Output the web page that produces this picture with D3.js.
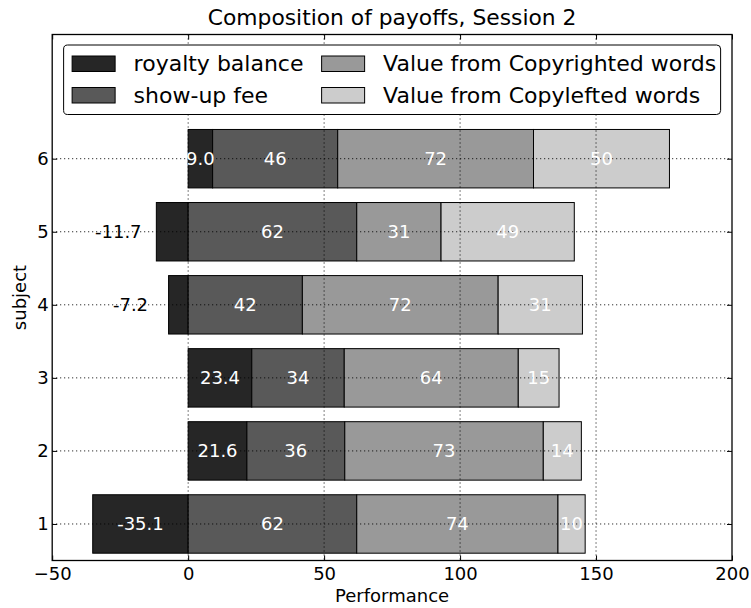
<!DOCTYPE html>
<html>
<head>
<meta charset="utf-8">
<script src="https://cdn.jsdelivr.net/npm/d3@7"></script>
<style>
  body { margin: 0; background: #fff; }
  text { font-family: "DejaVu Sans", sans-serif; }
</style>
</head>
<body>
<svg id="chart" width="751" height="608"></svg>
<script>
// ---- data ----
const subjects = [1, 2, 3, 4, 5, 6];
const royaltyBalance = [-35.1, 21.6, 23.4, -7.2, -11.7, 9.0];
const showUpFee = [62, 36, 34, 42, 62, 46];
const copyrightedValue = [74, 73, 64, 72, 31, 72];
const copyleftedValue = [10, 14, 15, 31, 49, 50];
const seriesNames = ["royalty balance", "show-up fee", "Value from Copyrighted words", "Value from Copylefted words"];
const seriesColors = ["#262626", "#595959", "#999999", "#cccccc"];
const xTicks = [-50, 0, 50, 100, 150, 200];
const title = "Composition of payoffs, Session 2";
const xLabel = "Performance";
const yLabel = "subject";

// ---- layout ----
const svg = d3.select("#chart");
const margin = { left: 52.2, right: 751 - 732, top: 34.5, bottom: 608 - 560.5 };
const W = 751 - margin.left - margin.right;
const H = 608 - margin.top - margin.bottom;
const x = d3.scaleLinear().domain([-50, 200]).range([0, W]);
const y = d3.scaleLinear().domain([0.5, 7.7]).range([H, 0]);
const barH = y(0) - y(0.8);

const g = svg.append("g").attr("transform", `translate(${margin.left},${margin.top})`);

// build segments
const segs = [];
subjects.forEach((s, i) => {
  const r = royaltyBalance[i];
  segs.push({ s, k: 0, x0: Math.min(0, r), x1: Math.max(0, r), v: r, label: r.toFixed(1) });
  let acc = Math.max(0, r);
  [showUpFee, copyrightedValue, copyleftedValue].forEach((arr, j) => {
    const v = arr[i];
    segs.push({ s, k: j + 1, x0: acc, x1: acc + v, v, label: String(Math.round(v)) });
    acc += v;
  });
});

// bars
g.selectAll("rect.bar").data(segs).join("rect")
  .attr("class", "bar")
  .attr("x", d => x(d.x0))
  .attr("width", d => x(d.x1) - x(d.x0))
  .attr("y", d => y(d.s) - barH / 2)
  .attr("height", barH)
  .attr("fill", d => seriesColors[d.k])
  .attr("stroke", "#000")
  .attr("stroke-width", 1);

// grid (drawn over bars)
const grid = g.append("g");
grid.selectAll("line.gx").data(xTicks.slice(1, -1)).join("line")
  .attr("x1", d => x(d)).attr("x2", d => x(d))
  .attr("y1", 0).attr("y2", H)
  .attr("stroke", "#000").attr("stroke-width", 1).attr("stroke-dasharray", "1,3");
grid.selectAll("line.gy").data(subjects).join("line")
  .attr("y1", d => y(d)).attr("y2", d => y(d))
  .attr("x1", 0).attr("x2", W)
  .attr("stroke", "#000").attr("stroke-width", 1).attr("stroke-dasharray", "1,3");

// bar labels
const outside = d => d.k === 0 && d.v < 0 && Math.abs(d.v) < 15;
g.selectAll("text.lab").data(segs).join("text")
  .attr("class", "lab")
  .attr("x", d => outside(d) ? x(d.v - 14) : x((d.x0 + d.x1) / 2))
  .attr("y", d => y(d.s))
  .attr("dy", "0.36em")
  .attr("text-anchor", "middle")
  .attr("font-size", "18px")
  .attr("fill", d => outside(d) ? "#000" : "#fff")
  .text(d => d.label);

// axes with inward ticks
const fmt = d => (d < 0 ? "\u2212" + Math.abs(d) : String(d));
const axB = g.append("g").attr("transform", `translate(0,${H})`)
  .call(d3.axisBottom(x).tickValues(xTicks).tickFormat(fmt).tickSizeInner(-5).tickSizeOuter(0).tickPadding(7));
const axT = g.append("g")
  .call(d3.axisTop(x).tickValues(xTicks).tickFormat("").tickSizeInner(-5).tickSizeOuter(0));
const axL = g.append("g")
  .call(d3.axisLeft(y).tickValues(subjects).tickFormat(d3.format("d")).tickSizeInner(-5).tickSizeOuter(0).tickPadding(3.5));
const axR = g.append("g").attr("transform", `translate(${W},0)`)
  .call(d3.axisRight(y).tickValues(subjects).tickFormat("").tickSizeInner(-5).tickSizeOuter(0));
[axB, axT, axL, axR].forEach(a => {
  a.select(".domain").remove();
  a.selectAll("line").attr("stroke", "#000").attr("stroke-width", 1);
  a.selectAll("text").attr("font-family", "DejaVu Sans").attr("font-size", "18px").attr("fill", "#000");
});

// frame
g.append("rect").attr("x", 0).attr("y", 0).attr("width", W).attr("height", H)
  .attr("fill", "none").attr("stroke", "#000").attr("stroke-width", 1.3);

// legend
const leg = g.append("g");
const legX = x(-45.8), legY = 10.5;
leg.append("rect").attr("x", legX).attr("y", legY).attr("width", 657).attr("height", 69.5)
  .attr("rx", 4).attr("fill", "#fff").attr("stroke", "#000").attr("stroke-width", 1);
const colX = [legX + 8.5, legX + 258];
seriesNames.forEach((name, i) => {
  const col = Math.floor(i / 2), row = i % 2;
  const cy = legY + 18.5 + row * 31.5;
  leg.append("rect").attr("x", colX[col]).attr("y", cy - 7.5).attr("width", 43).attr("height", 15.5)
    .attr("fill", seriesColors[i]).attr("stroke", "#000").attr("stroke-width", 1);
  leg.append("text").attr("x", colX[col] + 61.5).attr("y", cy).attr("dy", "0.36em")
    .attr("font-size", "22px").attr("fill", "#000").text(name);
});

// titles
svg.append("text").attr("x", margin.left + W / 2).attr("y", 25).attr("text-anchor", "middle")
  .attr("font-size", "21.8px").attr("fill", "#000").text(title);
svg.append("text").attr("x", margin.left + W / 2).attr("y", 602).attr("text-anchor", "middle")
  .attr("font-size", "18px").attr("fill", "#000").text(xLabel);
svg.append("text").attr("transform", `translate(20,${margin.top + H / 2}) rotate(-90)`)
  .attr("text-anchor", "middle").attr("dy", "0.36em")
  .attr("font-size", "18px").attr("fill", "#000").text(yLabel);
</script>
</body>
</html>
